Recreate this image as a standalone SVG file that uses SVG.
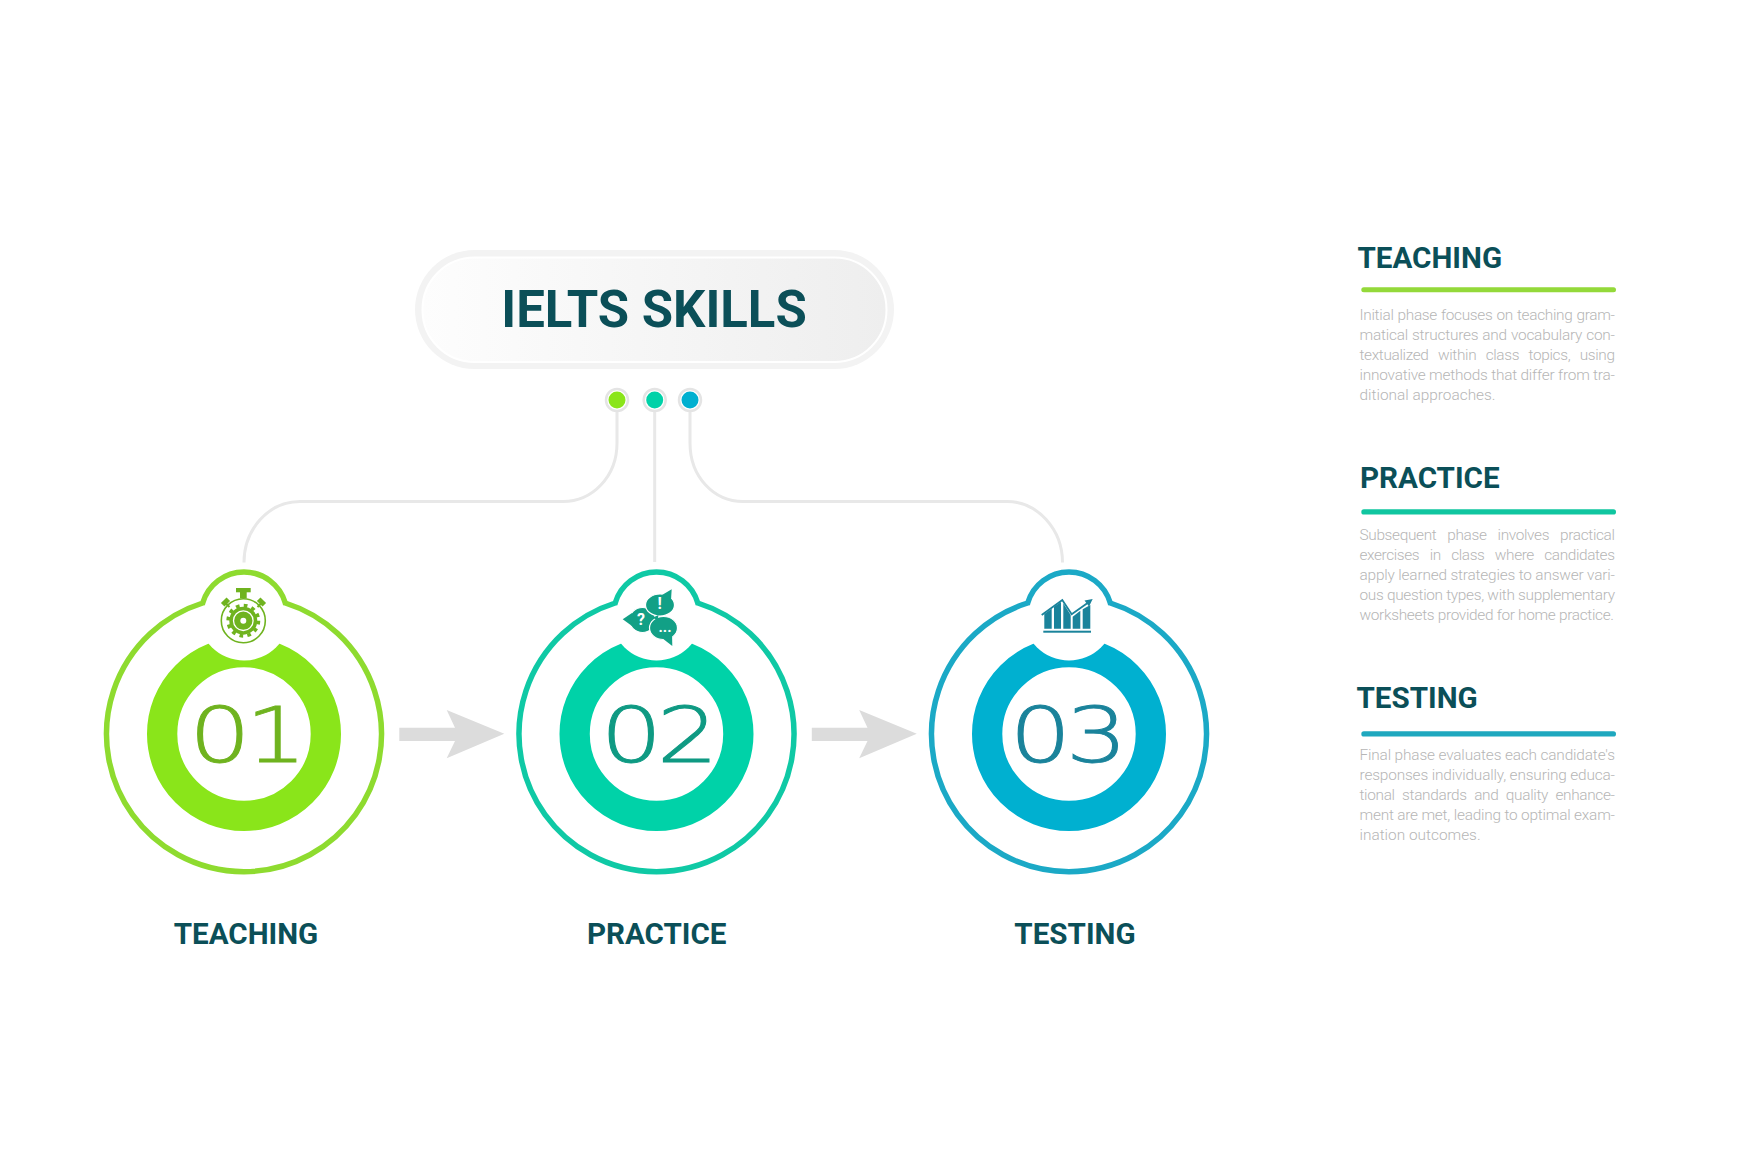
<svg xmlns="http://www.w3.org/2000/svg" width="1745" height="1155" viewBox="0 0 1745 1155">
<style>
text{font-family:Roboto,"Liberation Sans",sans-serif}
.h{font-weight:700;font-size:29.6px;fill:#0b4f58}
.c{text-anchor:middle}
.b{font-weight:300;font-size:15.4px;fill:#b6b6b6}
.n{font-family:"DejaVu Sans",sans-serif;font-weight:200;font-size:76px;stroke-width:0.9;letter-spacing:-4.5px}
.conn{fill:none;stroke:#e8e8e8;stroke-width:3}
.arrow{fill:#dcdcdc}
.outline{fill:none;stroke-width:5.5}
.ring{fill:none;stroke-width:30.3}
</style>
<defs>
<linearGradient id="pill" x1="0" x2="1" y1="0" y2="0"><stop offset="0" stop-color="#fdfdfd"/><stop offset="1" stop-color="#eeeeee"/></linearGradient>
<path id="outl" d="M-41.3,-131A43 43 0 0 1 41.3,-131A137.5 137.5 0 1 1 -41.3,-131Z"/>
</defs>
<rect width="1745" height="1155" fill="#fff"/>

<g id="connectors">
<path class="conn" d="M617,412V443C617,477 592,501.5 563,501.5H300C268,501.5 244,530 244,562.5"/>
<path class="conn" d="M654.7,412V562"/>
<path class="conn" d="M690,412V443C690,477 714,501.5 743,501.5H1007C1038,501.5 1062.5,530 1062.5,562.5"/>
<path class="arrow" d="M399.3,727.7H455L446.7,710L504.3,733.7L446.7,758.3L455,741H399.3Z"/>
<path class="arrow" d="M811.8,727.7H867.5L859.2,710L916.8,733.7L859.2,758.3L867.5,741H811.8Z"/>
</g>

<g id="title">
<rect x="415" y="250" width="479" height="119" rx="59.500" fill="#f3f3f3"/>
<rect x="422.500" y="257.500" width="464" height="104.500" rx="52" fill="url(#pill)" stroke="#fff" stroke-width="2"/>
<text x="654" y="327.300" text-anchor="middle" font-weight="700" font-size="50.900" fill="#0b4f58">IELTS SKILLS</text>
</g>

<g id="dots">
<circle cx="617" cy="400" r="11" fill="#fff" stroke="#e4e4e4" stroke-width="2.500"/><circle cx="617" cy="400" r="8.500" fill="#8ae51a"/>
<circle cx="654.700" cy="400" r="11" fill="#fff" stroke="#e4e4e4" stroke-width="2.500"/><circle cx="654.700" cy="400" r="8.500" fill="#00d2a8"/>
<circle cx="690" cy="400" r="11" fill="#fff" stroke="#e4e4e4" stroke-width="2.500"/><circle cx="690" cy="400" r="8.500" fill="#00b0d0"/>
</g>

<g id="node-teaching">
<g transform="translate(244 734)">
<circle class="ring" r="81.850" stroke="#8ae51a"/>
<circle cy="-119" r="45.500" fill="#fff"/>
<use href="#outl" class="outline" stroke="#8edb2f"/>
</g>
<text class="n" transform="translate(189 761.700) scale(1.28 1)" fill="#6fb31f" stroke="#6fb31f">01</text>
<g fill="#6fb31f">
<rect x="236" y="588" width="14.700" height="4.300"/>
<rect x="240" y="592" width="6.700" height="6.300"/>
<rect x="221.500" y="599.500" width="8" height="5" transform="rotate(-45 225.500 602)"/>
<rect x="257.500" y="599.500" width="8" height="5" transform="rotate(45 261.500 602)"/>
<path d="M226,603.500L229.500,607M261,603.500L257.500,607" stroke="#6fb31f" stroke-width="2" fill="none"/>
<circle cx="243.300" cy="620.700" r="22" fill="none" stroke="#6fb31f" stroke-width="1.600"/>
<circle cx="243.300" cy="620.700" r="15.200" fill="none" stroke="#6fb31f" stroke-width="3.500" stroke-dasharray="3.700 4.260"/>
<circle cx="243.300" cy="620.700" r="14"/>
<circle cx="243.300" cy="620.700" r="9.800" fill="none" stroke="#fff" stroke-width="1.300"/>
<circle cx="243.300" cy="620.700" r="3" fill="#fff"/>
</g>
<text class="h c" x="246" y="944">TEACHING</text>
</g>

<g id="node-practice">
<g transform="translate(656.500 734)">
<circle class="ring" r="81.850" stroke="#00d2a8"/>
<circle cy="-119" r="45.500" fill="#fff"/>
<use href="#outl" class="outline" stroke="#0fc9a5"/>
</g>
<text class="n" transform="translate(600.500 761.700) scale(1.28 1)" fill="#0f9a83" stroke="#0f9a83">02</text>
<g fill="#12a086" stroke="#fff" stroke-width="1.200">
<ellipse cx="642.500" cy="620" rx="13" ry="12.500"/>
<ellipse cx="663.500" cy="628" rx="14" ry="11.500"/>
<ellipse cx="660" cy="605" rx="14.500" ry="11"/>
<path stroke="none" d="M622.700,619.300L632,613L632,626Z"/>
<path stroke="none" d="M671.700,589.300L662,595L671,600Z"/>
<path stroke="none" d="M672.300,646L662,638L672,632Z"/>
<path stroke="none" d="M653,617.500L658.500,615L657.500,620.500Z"/>
</g>
<g fill="#fff" font-weight="700" text-anchor="middle">
<text x="641" y="625" font-size="16">?</text>
<text x="659.700" y="609" font-size="16">!</text>
<text x="665" y="632" font-size="15">...</text>
</g>
<text class="h c" x="656.700" y="944">PRACTICE</text>
</g>

<g id="node-testing">
<g transform="translate(1069 734)">
<circle class="ring" r="81.850" stroke="#00b0d0"/>
<circle cy="-119" r="45.500" fill="#fff"/>
<use href="#outl" class="outline" stroke="#1ba9c6"/>
</g>
<text class="n" transform="translate(1009.500 761.700) scale(1.28 1)" fill="#1a839b" stroke="#1a839b">03</text>
<g fill="#1a839b">
<rect x="1043.300" y="630.700" width="47.700" height="2"/>
<path d="M1044.300,614L1051.700,608.700V628.700H1044.300Z"/>
<path d="M1054,606.700L1061,602V628.700H1054Z"/>
<path d="M1063.300,603.300L1070.700,615V628.700H1063.300Z"/>
<path d="M1072.700,616.700L1080.300,610.700V628.700H1072.700Z"/>
<path d="M1082.700,609.300L1090.300,605V628.700H1082.700Z"/>
<path fill="none" stroke="#1a839b" stroke-width="1.800" d="M1041.700,615L1062.300,600L1071.700,614.300L1089,602"/>
<path d="M1092.700,599L1084.500,600.500L1089,606.500Z"/>
</g>
<text class="h c" x="1075" y="944">TESTING</text>
</g>

<g id="legend-teaching">
<text class="h" x="1357.500" y="267.800">TEACHING</text>
<rect x="1361.300" y="287.300" width="254.700" height="5" rx="2.500" fill="#94d93a"/>
<text class="b" x="1359.500" y="319.700" textLength="255.500" word-spacing="0.500">Initial phase focuses on teaching gram-</text>
<text class="b" x="1359.500" y="339.700" textLength="255.500" word-spacing="0.500">matical structures and vocabulary con-</text>
<text class="b" x="1359.500" y="359.700" textLength="255.500" word-spacing="6">textualized within class topics, using</text>
<text class="b" x="1359.500" y="379.700" textLength="255.500">innovative methods that differ from tra-</text>
<text class="b" x="1359.500" y="399.700">ditional approaches.</text>
</g>

<g id="legend-practice">
<text class="h" x="1360" y="488">PRACTICE</text>
<rect x="1361.300" y="509.300" width="254.700" height="5.300" rx="2.600" fill="#10c6a0"/>
<text class="b" x="1359.500" y="539.700" textLength="255.500" word-spacing="7.500">Subsequent phase involves practical</text>
<text class="b" x="1359.500" y="559.700" textLength="255.500" word-spacing="7">exercises in class where candidates</text>
<text class="b" x="1359.500" y="579.700" textLength="255.500">apply learned strategies to answer vari-</text>
<text class="b" x="1359.500" y="599.700" textLength="255.500">ous question types, with supplementary</text>
<text class="b" x="1359.500" y="619.700" textLength="254.500">worksheets provided for home practice.</text>
</g>

<g id="legend-testing">
<text class="h" x="1356.500" y="707.700">TESTING</text>
<rect x="1361.300" y="731.300" width="254.700" height="5.300" rx="2.600" fill="#1fa8bf"/>
<text class="b" x="1359.500" y="759.700" textLength="255.500">Final phase evaluates each candidate's</text>
<text class="b" x="1359.500" y="779.700" textLength="255.500">responses individually, ensuring educa-</text>
<text class="b" x="1359.500" y="799.700" textLength="255.500" word-spacing="4">tional standards and quality enhance-</text>
<text class="b" x="1359.500" y="819.700" textLength="255.500">ment are met, leading to optimal exam-</text>
<text class="b" x="1359.500" y="839.700">ination outcomes.</text>
</g>
</svg>
